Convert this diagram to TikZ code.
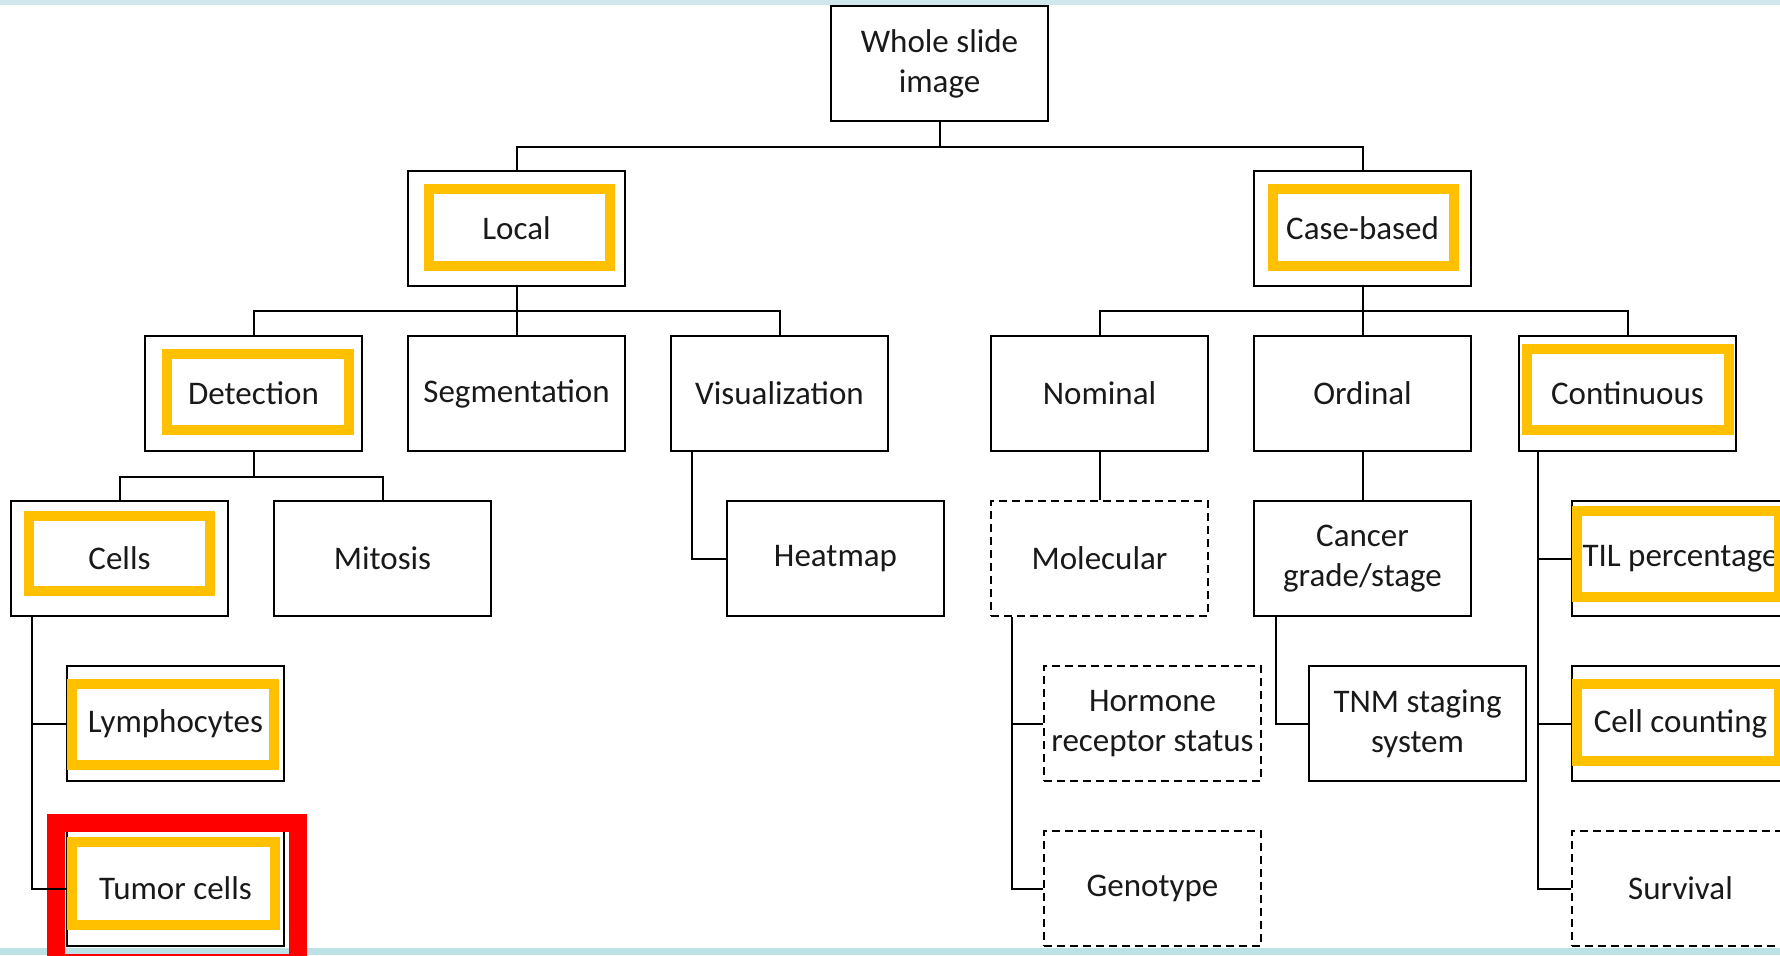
\documentclass[tikz,border=0pt]{standalone}
\usepackage{fontspec}
\setmainfont{Carlito}
\usepackage{tikz}
\usetikzlibrary{positioning,calc}
\definecolor{hlyellow}{RGB}{255,192,0}
\definecolor{bandtop}{RGB}{208,232,236}
\definecolor{bandbot}{RGB}{188,226,230}

\begin{document}
\begin{tikzpicture}[
    x=0.5pt,y=-0.5pt,
    node distance=24pt and 22pt,
    box/.style={rectangle,draw,line width=1pt,minimum width=108.5pt,minimum height=57.5pt,
                inner sep=0pt,align=center,text=black!90,font=\fontsize{16.5}{20}\selectfont},
    dbox/.style={box,dash pattern=on 4pt off 2.5pt},
    hl/.style={draw=hlyellow,line width=5pt},
    conn/.style={line width=1pt}
]
\useasboundingbox (0,0) rectangle (1780,955);
\fill[bandtop] (0,0) rectangle (1780,5);
\fill[bandbot] (0,948) rectangle (1780,955);

% top levels
\node[box] (wsi) at (939.5,63.5) {Whole slide\\image};
\node[box,below=24pt of wsi,xshift=-211.5pt] (local) {Local};
\node[box,below=24pt of wsi,xshift=211.5pt] (case) {Case-based};
\node[box,below=24pt of local] (seg) {Segmentation};
\node[box,left=22pt of seg] (det) {Detection};
\node[box,right=22pt of seg] (viz) {Visualization};
\node[box,below=24pt of case] (ord) {Ordinal};
\node[box,left=22pt of ord] (nom) {Nominal};
\node[box,right=23pt of ord] (cont) {Continuous};

% lower levels
\node[box,below=24pt of det,xshift=-67pt] (cells) {Cells};
\node[box,right=22pt of cells] (mit) {Mitosis};
\node[box,below=24pt of cells,xshift=28pt] (lymph) {Lymphocytes};
\node[box,below=24pt of lymph] (tumor) {Tumor cells};
\node[box,below=24pt of viz,xshift=28pt] (heat) {Heatmap};
\node[dbox,below=24pt of nom] (mol) {Molecular};
\node[dbox,below=24pt of mol,xshift=26.5pt] (horm) {Hormone\\receptor status};
\node[dbox,below=24pt of horm] (geno) {Genotype};
\node[box,below=24pt of ord] (canc) {Cancer\\grade/stage};
\node[box,below=24pt of canc,xshift=27.5pt] (tnm) {TNM staging\\system};
\node[box,below=24pt of cont,xshift=26.5pt] (til) {TIL percentage};
\node[box,below=24pt of til] (cellc) {Cell counting};
\node[dbox,below=24pt of cellc] (surv) {Survival};

% highlights
\draw[hl] ($(local.north west)+(22,19)$) rectangle ($(local.south east)+(-16,-21)$);
\draw[hl] ($(case.north west)+(20,19)$) rectangle ($(case.south east)+(-18,-21)$);
\draw[hl] ($(det.north west)+(23,19)$) rectangle ($(det.south east)+(-14,-22)$);
\draw[hl] ($(cells.north west)+(19,16)$) rectangle ($(cells.south east)+(-19,-26)$);
\draw[hl] ($(cont.north west)+(9,14)$) rectangle ($(cont.south east)+(-8,-22)$);
\draw[hl] ($(til.north west)+(6,11)$) rectangle ($(til.south east)+(-11,-20)$);
\draw[hl] ($(lymph.north west)+(6,19)$) rectangle ($(lymph.south east)+(-11,-17)$);
\draw[hl] ($(tumor.north west)+(6,12)$) rectangle ($(tumor.south east)+(-10,-22)$);
\draw[hl] ($(cellc.north west)+(6,19)$) rectangle ($(cellc.south east)+(-11,-21)$);
\draw[red,line width=9pt] ($(tumor.north west)+(-10,-7)$) rectangle ($(tumor.south east)+(13,16)$);

% connectors
\draw[conn] (wsi.south) -- ++(0,25) coordinate (b0);
\draw[conn] (local.north) |- (b0) -| (case.north);
\draw[conn] (local.south) -- (seg.north);
\draw[conn] (det.north) |- ($(local.south)!0.5!(seg.north)$) -| (viz.north);
\draw[conn] (case.south) -- (ord.north);
\draw[conn] (nom.north) |- ($(case.south)!0.5!(ord.north)$) -| (cont.north);
\draw[conn] (det.south) -- ++(0,25) coordinate (b3);
\draw[conn] (cells.north) |- (b3) -| (mit.north);
\draw[conn] ($(viz.south west)+(22,0)$) |- (heat.west);
\draw[conn] (nom.south) -- (mol.north);
\draw[conn] (ord.south) -- (canc.north);
\draw[conn] ($(cells.south west)+(22,0)$) |- (lymph.west)
            ($(cells.south west)+(22,0)$) |- (tumor.west);
\draw[conn] ($(mol.south west)+(21.5,0)$) |- (horm.west)
            ($(mol.south west)+(21.5,0)$) |- (geno.west);
\draw[conn] ($(canc.south west)+(23,0)$) |- (tnm.west);
\draw[conn] ($(cont.south west)+(20,0)$) |- (til.west)
            ($(cont.south west)+(20,0)$) |- (cellc.west)
            ($(cont.south west)+(20,0)$) |- (surv.west);
\end{tikzpicture}
\end{document}
